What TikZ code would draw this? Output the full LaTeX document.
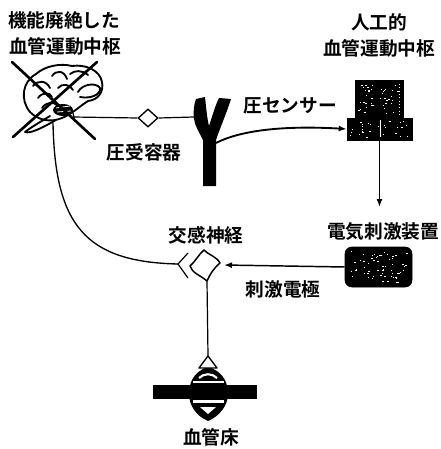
\documentclass[tikz,border=0pt]{standalone}
\usepackage{fontspec}
\newfontfamily\jp[BoldFont={Noto Sans CJK JP Bold}]{Noto Sans CJK JP}
\usetikzlibrary{arrows.meta,shapes.geometric}
\tikzset{
  lbl/.style={font=\jp\bfseries\fontsize{14}{16}\selectfont, inner sep=0pt},
  wire/.style={line width=0.9pt},
  arr/.style={line width=1.1pt, -{Latex[length=6pt,width=4.5pt]}},
  thickx/.style={line width=2pt, line cap=round},
  brainline/.style={line width=1.4pt, line cap=round, line join=round},
  blackbox/.style={fill=black, draw=black, inner sep=0pt},
}
\begin{document}
\begin{tikzpicture}[x=0.75pt,y=-0.75pt]
\useasboundingbox (0,0) rectangle (441,449);

% ---- labels
\node[lbl] (t1) at (64,20) {機能廃絶した};
\node[lbl] (t2) at (65,46) {血管運動中枢};
\node[lbl] (t3) at (379,22) {人工的};
\node[lbl] (t4) at (379,48) {血管運動中枢};
\node[lbl] (baro) at (144,152) {圧受容器};
\node[lbl] (sensor) at (290,106) {圧センサー};
\node[lbl] (stimdev) at (383,232) {電気刺激装置};
\node[lbl] (symp) at (206,235) {交感神経};
\node[lbl] (elec) at (283,289) {刺激電極};
\node[lbl] (bed) at (211,437) {血管床};

% ---- brain (vasomotor centre, out of function)
\begin{scope}[brainline]
  \draw (30,112) .. controls (20,100) and (22,82) .. (36,74)
        .. controls (45,66) and (60,63) .. (72,66)
        .. controls (85,64) and (100,70) .. (102,82)
        .. controls (104,92) and (98,100) .. (88,101)
        .. controls (80,106) and (72,114) .. (62,118)
        .. controls (50,123) and (38,120) .. (30,112);
  \draw (78,92) .. controls (82,84) and (96,82) .. (100,88)
        .. controls (101,95) and (90,99) .. (80,97);
  \draw (33,86) .. controls (38,80) and (46,80) .. (50,88);
  \draw (38,98) .. controls (42,92) and (50,92) .. (52,97);
  \draw (52,76) .. controls (56,70) and (64,70) .. (67,79);
  \draw (58,88) .. controls (62,83) and (70,84) .. (73,90);
  \draw (70,74) .. controls (75,70) and (82,70) .. (88,75);
  \draw (42,108) .. controls (46,102) and (54,101) .. (58,106);
  \draw (50,116) .. controls (40,122) and (30,128) .. (25,132)
        .. controls (30,134) and (42,128) .. (56,120);
  \fill (63,110) ellipse [x radius=10, y radius=6];
\end{scope}
\draw[white, line width=0.6pt] (56,108) -- (70,106) (57,112) -- (71,111);
% the cross over the brain
\draw[thickx] (12,62) -- (95,139);
\draw[thickx] (97,62) -- (13,137);

% ---- pressure sensor vessel (Y-shaped)
\fill (196,99) -- (205,97)
      .. controls (206,106) and (207,118) .. (209,126)
      .. controls (212,117) and (215,106) .. (219,98)
      -- (231,99)
      .. controls (227,112) and (220,128) .. (216,140)
      -- (216,186) -- (203,186) -- (203,140)
      .. controls (199,132) and (195,126) .. (194,119)
      .. controls (193,112) and (194,104) .. (196,99) -- cycle;
\coordinate (yleft) at (194,117);
\coordinate (ystem) at (216,143);

% ---- baroreceptor line
\coordinate (brainout) at (73,117);
\draw[wire] (73,113) -- (75,122);
\node[diamond, draw, fill=white, line width=1pt, inner sep=0pt,
      minimum width=15pt, minimum height=13.5pt] (rec) at (148,118) {};
\draw[wire] (brainout) -- (rec.west);
\draw[wire] (rec.east) -- (yleft);

% ---- artificial vasomotor centre (computer)
\node[blackbox, minimum width=36pt, minimum height=28.5pt] (mon) at (379,99) {};
\node[blackbox, minimum width=48.75pt, minimum height=16.5pt] (kbd) at (379.5,129) {};
\pgfmathsetseed{11}
\foreach \i in {1,...,45}{
  \pgfmathsetmacro\px{358+rnd*42}
  \pgfmathsetmacro\py{83+rnd*32}
  \fill[white] (\px,\py) rectangle ++(1.4,0.9);
}
\foreach \i in {1,...,30}{
  \pgfmathsetmacro\px{350+rnd*58}
  \pgfmathsetmacro\py{121+rnd*16}
  \fill[white] (\px,\py) rectangle ++(1.4,0.9);
}
\draw[white, line width=0.5pt] (380,120) -- (380,137);
\draw[white, line width=0.5pt, dotted] (399,84) -- (399,116);

% ---- electrical stimulator
\node[blackbox, rounded corners=5pt, minimum width=50.25pt, minimum height=30pt] (stim) at (378.5,267) {};
\foreach \i in {1,...,60}{
  \pgfmathsetmacro\px{350+rnd*57}
  \pgfmathsetmacro\py{251+rnd*32}
  \fill[white] (\px,\py) rectangle ++(1.4,0.9);
}

% ---- sympathetic nerve ending
\draw[line width=1.1pt, line join=round]
  (204,250) .. controls (210,256) and (216,256) .. (220,263)
  .. controls (214,268) and (210,274) .. (207,281)
  .. controls (200,275) and (192,273) .. (190,266)
  .. controls (195,262) and (199,254) .. (204,250) -- cycle;
\coordinate (cellin) at (224,265);
\coordinate (cellbot) at (207,281);
\coordinate (nervetip) at (178,264);
\draw[wire] (188,253) -- (nervetip) -- (188,278);

% ---- vascular bed
\fill (208,367) .. controls (225,372) and (228,385) .. (228,394)
      .. controls (228,405) and (220,416) .. (208,421)
      .. controls (196,416) and (189,405) .. (189,394)
      .. controls (189,385) and (192,372) .. (208,367) -- cycle;
\fill (153,385) rectangle (257,399);
\draw[white, line width=1.6pt] (199,378) .. controls (204,373) and (212,373) .. (217,378);
\draw[white, line width=1.8pt] (193,382) -- (224,382);
\draw[white, line width=1.8pt] (193,401.5) -- (224,401.5);
\fill[white] (200,407) -- (216,407) -- (208,414) -- cycle;
\draw[line width=1pt, line join=round, fill=white] (208,356) -- (199,368) -- (217,368) -- cycle;
\coordinate (bedtop) at (208,356);

% ---- connections
\coordinate (cordtop) at (53,123);
\draw[line width=1pt] (cordtop) .. controls (55,225) and (85,262) .. (nervetip);
\draw[wire] (cellbot) -- (bedtop);
\draw[arr, line width=1.4pt] (ystem) .. controls (245,128) and (295,126) .. (kbd.west);
\draw[arr] (kbd.south) -- (379.5,207);
\draw[arr] (stim.west) -- (cellin);
\end{tikzpicture}
\end{document}
